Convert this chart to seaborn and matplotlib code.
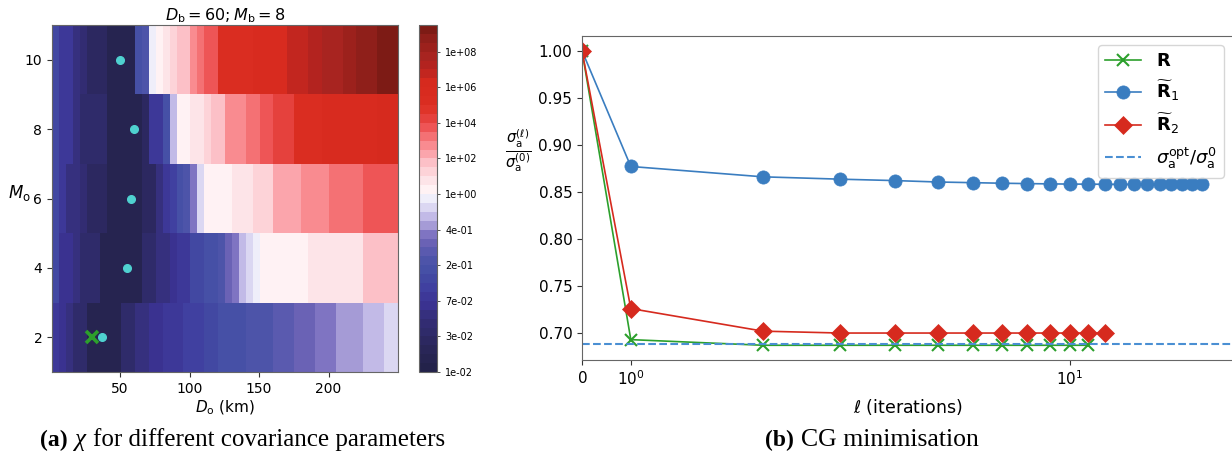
import numpy as np
import matplotlib
matplotlib.use("Agg")
import matplotlib.pyplot as plt
import seaborn as sns
from matplotlib.colors import ListedColormap, BoundaryNorm
from matplotlib.ticker import FormatStrFormatter, NullLocator

# %%
# panel (a): log10(chi) read off per ~5 km column, D_o from 1 to 250 km
m_rows = [10, 8, 6, 4, 2]
d_lo, d_hi, n_cols = 1, 250, 50

log_chi_m10 = [-0.92, -1.11, -1.11, -1.30, -1.40, -1.59, -1.59, -1.59, -1.79, -1.79,
               -1.79, -1.79, -0.82, -0.72, -0.05, 0.25, 0.75, 1.25, 1.75, 1.75,
               2.75, 3.25, 3.75, 3.75, 5.25, 5.25, 5.25, 5.25, 5.25, 5.75,
               5.75, 5.75, 5.75, 5.75, 6.75, 6.75, 6.75, 7.25, 7.25, 7.75,
               7.75, 7.75, 8.25, 8.25, 8.75, 8.75, 8.75, 9.25, 9.25, 9.25]
log_chi_m8 = [-0.92, -1.11, -1.11, -1.30, -1.50, -1.50, -1.50, -1.50, -1.79, -1.79,
              -1.79, -1.79, -1.79, -1.59, -1.11, -1.11, -0.82, -0.24, 0.25, 0.25,
              0.75, 0.75, 1.25, 1.75, 1.75, 2.75, 2.75, 2.75, 3.25, 3.25,
              3.75, 3.75, 4.25, 4.25, 4.25, 5.25, 5.25, 5.25, 5.25, 5.75,
              5.75, 5.75, 5.75, 5.75, 5.75, 5.75, 5.75, 6.25, 6.25, 6.25]
log_chi_m6 = [-0.92, -1.11, -1.30, -1.30, -1.40, -1.59, -1.59, -1.59, -1.79, -1.79,
              -1.79, -1.79, -1.79, -1.59, -1.59, -1.30, -1.11, -1.01, -0.82, -0.72,
              -0.43, -0.14, 0.10, 0.25, 0.25, 0.25, 0.75, 0.75, 0.75, 1.25,
              1.25, 1.25, 2.25, 2.25, 2.25, 2.25, 2.75, 2.75, 2.75, 2.75,
              3.25, 3.25, 3.25, 3.25, 3.25, 3.75, 3.75, 3.75, 3.75, 3.75]
log_chi_m4 = [-0.92, -1.21, -1.21, -1.30, -1.50, -1.50, -1.50, -1.79, -1.79, -1.79,
              -1.79, -1.79, -1.79, -1.50, -1.50, -1.30, -1.30, -1.21, -1.11, -1.11,
              -0.92, -0.92, -0.82, -0.82, -0.72, -0.53, -0.43, -0.24, -0.14, -0.05,
              0.10, 0.25, 0.25, 0.25, 0.25, 0.25, 0.25, 0.75, 0.75, 0.75,
              0.75, 0.75, 0.75, 0.75, 0.75, 1.75, 1.75, 1.75, 1.75, 1.75]
log_chi_m2 = [-1.11, -1.21, -1.30, -1.50, -1.50, -1.79, -1.79, -1.79, -1.79, -1.79,
              -1.50, -1.50, -1.30, -1.30, -1.21, -1.21, -1.11, -1.11, -1.11, -1.01,
              -1.01, -1.01, -0.92, -0.92, -0.82, -0.82, -0.82, -0.82, -0.72, -0.72,
              -0.72, -0.72, -0.63, -0.63, -0.63, -0.53, -0.53, -0.53, -0.43, -0.43,
              -0.43, -0.34, -0.34, -0.34, -0.34, -0.24, -0.24, -0.24, -0.14, -0.14]

best_d = [50, 60, 58, 55, 37]
best_m = [10, 8, 6, 4, 2]
bg_d, bg_m = 30, 2

# panel (b): CG minimisation
iters_r = list(range(12))
sig_r = [1.0, 0.693, 0.687, 0.687, 0.687, 0.687, 0.687, 0.687, 0.687, 0.687, 0.687, 0.687]
iters_r1 = list(range(21))
sig_r1 = [1.0, 0.877, 0.866, 0.8635, 0.862, 0.8605, 0.8598, 0.8592, 0.8588, 0.8585, 0.8583,
          0.8582, 0.8581, 0.858, 0.858, 0.858, 0.858, 0.858, 0.858, 0.858, 0.858]
iters_r2 = list(range(13))
sig_r2 = [1.0, 0.726, 0.702, 0.700, 0.700, 0.700, 0.700, 0.700, 0.700, 0.700, 0.700, 0.700, 0.700]
sig_opt = 0.6885

# %%
band_colors = ['#23224a', '#262450', '#292657', '#2c2860',
               '#2f2b6a', '#322c72', '#36307e', '#3a3290',
               '#3d3898', '#4040a0', '#4248a2', '#4650a6',
               '#4d54a9', '#5a5aaf', '#6a62b5', '#7f74c2',
               '#a59bd6', '#c2bae7', '#dbd7f2', '#efeefa',
               '#fff2f4', '#fde4e8', '#fdd3d8', '#fcc0c7',
               '#fba5ac', '#f98b90', '#f47174', '#ee5556',
               '#e5413d', '#df3429', '#da2d21', '#d82b1f',
               '#d62a1e', '#c2261f', '#b3231f', '#a82420',
               '#9c211c', '#8f1f1a', '#7d1b15']
cmap = ListedColormap(band_colors)
bounds = np.concatenate([10 ** np.linspace(-1.93, 0, 21), 10 ** np.linspace(0, 9.5, 20)[1:]])
norm = BoundaryNorm(bounds, ncolors=len(band_colors))

chi = 10 ** np.array([log_chi_m10, log_chi_m8, log_chi_m6, log_chi_m4, log_chi_m2])
d_edges = np.linspace(d_lo, d_hi, n_cols + 1)


def d_pos(d):
    return np.interp(d, d_edges, np.arange(n_cols + 1))


def m_pos(m):
    return (11 - np.asarray(m)) / 2


fig = plt.figure(figsize=(12.32, 4.58), dpi=100)
W, H = 1232, 458
ax1 = fig.add_axes([52 / W, (H - 372) / H, 346 / W, 347 / H])
cax = fig.add_axes([419 / W, (H - 372) / H, 18 / W, 347 / H])
ax2 = fig.add_axes([582 / W, (H - 360) / H, 651 / W, 324 / H])

spine_col = '#666666'

# %%
sns.heatmap(chi, ax=ax1, cbar_ax=cax, cmap=cmap, norm=norm,
            xticklabels=False, yticklabels=False,
            cbar_kws={'ticks': bounds[:-1:4], 'format': FormatStrFormatter('%.0e')})
cb = ax1.collections[0].colorbar
cb.outline.set_linewidth(0.8)
cb.outline.set_edgecolor(spine_col)
cb.ax.tick_params(labelsize=7, length=2.5, width=0.6, color='#333333')
cb.ax.minorticks_off()

for s in ax1.spines.values():
    s.set_visible(True)
    s.set_color(spine_col)
    s.set_linewidth(0.8)

xt = [50, 100, 150, 200]
ax1.set_xticks(d_pos(xt))
ax1.set_xticklabels([str(v) for v in xt], rotation=0, fontsize=10)
yt = [2, 4, 6, 8, 10]
ax1.set_yticks(m_pos(yt))
ax1.set_yticklabels([str(v) for v in yt], rotation=0, fontsize=10)
ax1.tick_params(length=3.5, width=0.8, color='#333333')

ax1.plot(d_pos(best_d), m_pos(best_m), 'o', color='#4fd1d0', ms=5.5, zorder=5)
ax1.plot(d_pos(bg_d), m_pos(bg_m), 'x', color='#2ca02c', ms=9, mew=2.6, zorder=6)

ax1.set_title(r'$D_\mathrm{b} = 60; M_\mathrm{b} = 8$', fontsize=11.5, pad=3)
ax1.set_xlabel(r'$D_\mathrm{o}$ (km)', fontsize=11, labelpad=2)
ax1.set_ylabel(r'$M_\mathrm{o}$', fontsize=12, rotation=0, ha='center', va='center')
ax1.yaxis.set_label_coords(-0.095, 0.516)

# %%
green, blue, red = '#2ca02c', '#3a7dc0', '#d62a1e'
sns.lineplot(x=iters_r, y=sig_r, ax=ax2, color=green, lw=1.2, marker='x', ms=8,
             markeredgecolor=green, markeredgewidth=1.5, label=r'$\mathbf{R}$')
sns.lineplot(x=iters_r1, y=sig_r1, ax=ax2, color=blue, lw=1.2, marker='o', ms=9.5,
             markeredgecolor=blue, markeredgewidth=0.5, label=r'$\widetilde{\mathbf{R}}_1$')
sns.lineplot(x=iters_r2, y=sig_r2, ax=ax2, color=red, lw=1.2, marker='D', ms=9,
             markeredgecolor=red, markeredgewidth=0.5, label=r'$\widetilde{\mathbf{R}}_2$')
ax2.axhline(sig_opt, ls='--', color='#4a8fd3', lw=1.5,
            label=r'$\sigma_\mathrm{a}^\mathrm{opt}/\sigma_\mathrm{a}^0$')

ax2.set_xscale('symlog', linthresh=1, linscale=0.1)
ax2.set_xlim(0, 23.5)
ax2.set_xticks([0, 1, 10])
ax2.xaxis.set_minor_locator(NullLocator())
ax2.tick_params(labelsize=11, length=3.5, width=0.8, color='#333333')
for s in ax2.spines.values():
    s.set_color(spine_col)
    s.set_linewidth(0.8)

ax2.set_xlabel(r'$\ell$ (iterations)', fontsize=12.5, labelpad=6)
ax2.set_ylabel(r'$\frac{\sigma_\mathrm{a}^{(\ell)}}{\sigma_\mathrm{a}^{(0)}}$', fontsize=15,
               rotation=0, ha='center', va='center')
ax2.yaxis.set_label_coords(-0.098, 0.645)
ax2.legend(loc='upper right', fontsize=13, handlelength=2.0, borderaxespad=0.5)

# %%
# sub-figure captions: bold tag, then the text (pieces placed one after another)
cap_font = ['Liberation Serif', 'DejaVu Serif']
renderer = fig.canvas.get_renderer()
cap_y = (H - 440) / H
captions = [(40, [('(a)', 'bold', 'normal', 17), ('\u03c7', 'normal', 'italic', 18),
                  ('for different covariance parameters', 'normal', 'normal', 18)]),
            (765, [('(b)', 'bold', 'normal', 17), ('CG minimisation', 'normal', 'normal', 18.5)])]
for x0, pieces in captions:
    x = x0
    for txt, weight, style, size in pieces:
        t = fig.text(x / W, cap_y, txt, family=cap_font, fontweight=weight, style=style,
                     fontsize=size, va='center')
        x = t.get_window_extent(renderer).x1 + 7

fig.savefig('out.png', dpi=100)
